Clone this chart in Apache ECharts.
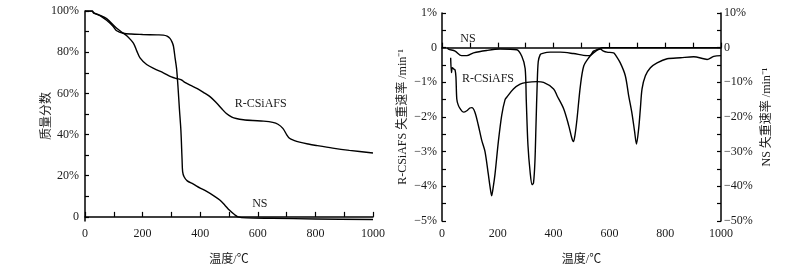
<!DOCTYPE html>
<html>
<head>
<meta charset="utf-8">
<script src="https://cdn.jsdelivr.net/npm/echarts@6/dist/echarts.min.js"></script>
<style>
  html, body { margin: 0; padding: 0; background: #fff; }
  #chart { width: 802px; height: 271px; }
</style>
</head>
<body>
<div id="chart"></div>
<script>
// TG curves (temperature °C, mass fraction %)
const tgNS = [
  [0, 100], [25, 100], [30, 99], [52, 97.8], [75, 95.5], [98, 92.5], [110, 90.4], [133, 89.2],
  [160, 88.8], [200, 88.6], [250, 88.4], [272, 88.3], [285, 87.8], [295, 86.7], [302, 85],
  [307, 83], [313, 77], [318, 72], [323, 63], [328, 52], [333, 42], [337, 28], [339, 22],
  [344, 19.5], [355, 17.5], [375, 16], [400, 14], [421, 12.5], [450, 10], [468, 8.2],
  [485, 5.8], [502, 3.2], [520, 1], [531, 0], [560, -0.5], [650, -0.7], [800, -1.0], [1000, -1.3]
]
const tgR = [
  [0, 100], [25, 100], [30, 99.2], [50, 98], [75, 96.3], [110, 91.6], [130, 89.5], [145, 88],
  [168, 84.4], [180, 80.5], [191, 77.2], [214, 74], [240, 72], [272, 70], [300, 68], [318, 67.2],
  [330, 66.8], [336, 66.4], [345, 65.5], [365, 64], [390, 62.3], [411, 60.5], [435, 58.3],
  [457, 55.3], [475, 52.5], [491, 50.2], [510, 48.5], [525, 47.8], [550, 47.2], [583, 46.8],
  [620, 46.5], [652, 45.9], [670, 45], [687, 43], [700, 40], [710, 38.2], [725, 37.2],
  [745, 36.3], [775, 35.4], [803, 34.7], [860, 33.4], [918, 32.3], [1000, 31]
]
// DTG curves: R-CSiAFS on left axis (%/min), NS on right axis (%/min)
const dtgR = [
  [31, -0.29], [34, -0.72], [37, -0.58], [43, -0.62], [47, -0.65], [50, -0.85], [53, -1.48],
  [58, -1.65], [65, -1.76], [77, -1.86], [89, -1.82], [100, -1.74], [107, -1.73], [118, -1.86],
  [130, -2.23], [142, -2.66], [154, -2.99], [166, -3.65], [172, -4.0], [178, -4.27], [184, -4.0],
  [190, -3.65], [202, -2.71], [214, -1.95], [226, -1.5], [232, -1.43], [256, -1.19], [280, -1.05],
  [304, -1.0], [340, -0.98], [364, -1.0], [400, -1.19], [412, -1.38], [436, -1.76], [454, -2.24],
  [465, -2.6], [471, -2.71], [477, -2.5], [484, -2.05], [496, -1.1], [508, -0.53], [526, -0.29],
  [543, -0.15], [567, -0.04], [579, -0.1], [591, -0.13], [615, -0.15], [621, -0.2], [639, -0.44],
  [657, -0.81], [669, -1.38], [681, -1.9], [690, -2.4], [697, -2.78], [705, -2.33], [711, -1.76],
  [717, -1.19], [729, -0.81], [747, -0.58], [771, -0.44], [807, -0.32], [855, -0.29], [902, -0.26],
  [938, -0.32], [950, -0.34], [974, -0.25], [1000, -0.23]
]
const dtgNS = [
  [20, 0], [23, -0.4], [47, -1], [70, -2.3], [89, -2.3], [113, -1.5], [160, -0.8], [208, -0.4],
  [268, -0.6], [286, -2.5], [298, -6], [302, -15], [308, -28], [316, -36], [323, -39.5],
  [328, -39], [333, -33], [337, -22], [341, -11], [345, -4], [352, -2], [358, -1.7], [388, -1.3],
  [424, -1.3], [471, -1.7], [520, -2.3], [532, -2.2], [543, -1], [561, -0.4], [575, 0], [1000, 0]
]

const xTicks = [0, 100, 200, 300, 400, 500, 600, 700, 800, 900, 1000]
const xLabels = [0, 200, 400, 600, 800, 1000]
const tgTicks = [0, 10, 20, 30, 40, 50, 60, 70, 80, 90, 100]
const tgLabels = [0, 20, 40, 60, 80, 100]
const dtgLeftTicks = [1, 0.5, 0, -0.5, -1, -1.5, -2, -2.5, -3, -3.5, -4, -4.5, -5]
const dtgLeftLabels = [1, 0, -1, -2, -3, -4, -5]
const dtgRightTicks = [10, 5, 0, -5, -10, -15, -20, -25, -30, -35, -40, -45, -50]
const dtgRightLabels = [10, 0, -10, -20, -30, -40, -50]

// text annotations [x, y, text] in data units
const tgNotes = [[610, 55, 'R-CSiAFS'], [607, 6.1, 'NS']]
const dtgNotes = [[93, 0.26, 'NS'], [165, -0.91, 'R-CSiAFS']]

const FONT = '"Liberation Serif", "Noto Sans CJK SC", serif'
const ink = '#1a1a1a'

const pct = (v) => (v === 0 ? '0' : String(v).replace('-', '\u2212') + '%')

function xAxis(gridIndex) {
  return {
    type: 'value', gridIndex, min: 0, max: 1000, interval: 100,
    name: '温度/℃', nameLocation: 'middle', nameGap: 33,
    nameTextStyle: { color: ink, fontFamily: FONT, fontSize: 12 },
    axisLine: { lineStyle: { color: '#000', width: 1.5 } },
    axisTick: { inside: true, length: 5, customValues: xTicks, lineStyle: { color: '#000', width: 1.2 } },
    axisLabel: { customValues: xLabels, formatter: (v) => String(v), color: ink, fontFamily: FONT, fontSize: 12, margin: 7 },
    splitLine: { show: false },
  }
}

function yAxis(opts) {
  return {
    type: 'value', gridIndex: opts.grid, min: opts.min, max: opts.max, position: opts.pos,
    name: opts.name, nameLocation: 'middle', nameGap: opts.gap, nameMoveOverlap: false,
    nameTextStyle: { color: ink, fontFamily: FONT, fontSize: 12 },
    axisLine: { show: true, onZero: false, lineStyle: { color: '#000', width: 1.5 } },
    axisTick: { inside: true, length: 4, customValues: opts.ticks, lineStyle: { color: '#000', width: 1.2 } },
    axisLabel: { customValues: opts.labels, formatter: pct, color: ink, fontFamily: FONT, fontSize: 12, margin: opts.margin },
    splitLine: { show: false },
  }
}

function notes(list) {
  return {
    symbol: 'circle', symbolSize: 1, itemStyle: { color: 'rgba(0,0,0,0)' },
    label: { show: true, position: 'inside', color: ink, fontFamily: FONT, fontSize: 12, formatter: (p) => p.name },
    data: list.map(([x, y, t]) => ({ coord: [x, y], name: t })),
  }
}

function curve(data, xi, yi, extra) {
  return Object.assign({
    type: 'line', data, xAxisIndex: xi, yAxisIndex: yi, symbol: 'none', smooth: 0.3,
    lineStyle: { color: '#000', width: 1.4 }, silent: true, animation: false,
  }, extra || {})
}

const chart = echarts.init(document.getElementById('chart'), null, { renderer: 'canvas' })
chart.setOption({
  backgroundColor: '#fff',
  animation: false,
  grid: [
    { left: 85, top: 11, width: 288, height: 213 },
    { left: 442, top: 13, width: 279, height: 211 },
  ],
  xAxis: [xAxis(0), xAxis(1)],
  yAxis: [
    yAxis({ grid: 0, min: -2, max: 100, pos: 'left', name: '质量分数', gap: 32, ticks: tgTicks, labels: tgLabels, margin: 6 }),
    yAxis({ grid: 1, min: -5, max: 1, pos: 'left', name: 'R-CSiAFS 失重速率 /min⁻¹', gap: 33, ticks: dtgLeftTicks, labels: dtgLeftLabels, margin: 5 }),
    yAxis({ grid: 1, min: -50, max: 10, pos: 'right', name: 'NS 失重速率 /min⁻¹', gap: 40, ticks: dtgRightTicks, labels: dtgRightLabels, margin: 3 }),
  ],
  series: [
    curve(tgNS, 0, 0, { markPoint: notes(tgNotes) }),
    curve(tgR, 0, 0),
    curve(dtgR, 1, 1, { markPoint: notes(dtgNotes) }),
    curve(dtgNS, 1, 2),
  ],
})
</script>
</body>
</html>
